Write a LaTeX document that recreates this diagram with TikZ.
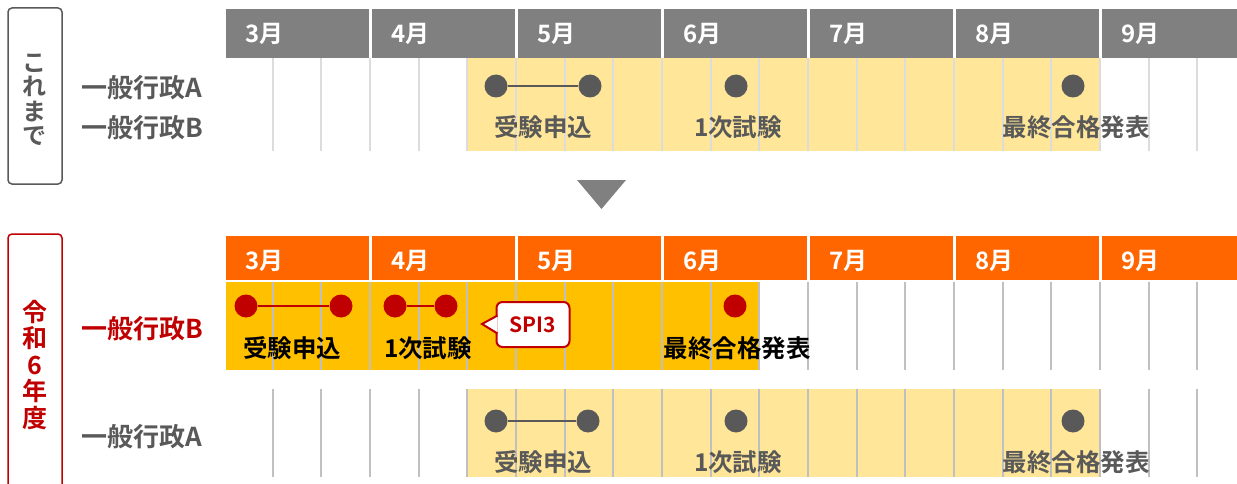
\documentclass[tikz,border=0pt]{standalone}
\usepackage{fontspec}
\setmainfont{Noto Sans CJK JP}[BoldFont={Noto Sans CJK JP Bold}]
\usetikzlibrary{calc}
\definecolor{dgray}{HTML}{595959}
\definecolor{hgray}{HTML}{808080}
\definecolor{lgray}{HTML}{DCDCDC}
\definecolor{mgray}{HTML}{C0C0C0}
\definecolor{byel}{HTML}{FFE699}
\definecolor{oyel}{HTML}{FFC000}
\definecolor{orng}{HTML}{FF6600}
\definecolor{dred}{HTML}{C00000}
\tikzset{
  monthlbl/.style={anchor=west, text=white, inner sep=0, font=\fontsize{24}{24}\selectfont\bfseries},
  rowlbl/.style={anchor=west, inner sep=0, font=\fontsize{26}{26}\selectfont\bfseries},
  evlbl/.style={inner sep=0, font=\fontsize{24.5}{24.5}\selectfont\bfseries},
  evdot/.style={circle, inner sep=0, minimum size=23pt},
  link/.style={line width=2.5pt},
  sidebox/.style={draw, line width=1.5pt, rounded corners=4pt, minimum width=54pt, inner sep=0},
  sidetext/.style={align=center, inner sep=0},
  gridtop/.style={lgray, line width=2pt},
  gridlow/.style={mgray, line width=2pt},
  monthsep/.style={white, line width=3pt},
}
\begin{document}
\begin{tikzpicture}[x=1pt,y=-1pt]
\useasboundingbox (0,0) rectangle (1237,484);
\fill[white] (0,0) rectangle (1237,484);

% ---------------- top section (これまで) ----------------
\node[sidebox, draw=dgray, minimum height=176pt] (boxold) at (35,96) {};
\node[sidetext, text=dgray, font=\fontsize{24}{24.5}\selectfont\bfseries] (txtold) at (35,100) {こ\\れ\\ま\\で};

\fill[hgray] (226,9) rectangle (1237,58);
\foreach \i in {1,...,6} { \draw[monthsep] (224+146*\i,9) -- (224+146*\i,58); }
\foreach \m [count=\i from 0] in {3,...,9} {
  \node[monthlbl] (tm\m) at (245+146*\i,34) {\m{}月};
}
\fill[byel] (467.3,58) rectangle (1100,151);
\foreach \k in {1,...,20} {
  \pgfmathsetmacro\gx{224+48.667*\k}
  \draw[gridtop] (\gx,58) -- (\gx,151);
}
\node[rowlbl, text=dgray] (oldA) at (81,88) {一般行政A};
\node[rowlbl, text=dgray] (oldB) at (81,128) {一般行政B};

\node[evdot, fill=dgray] (o1) at (496,86) {};
\node[evdot, fill=dgray] (o2) at (590,86) {};
\node[evdot, fill=dgray] (o3) at (736,86) {};
\node[evdot, fill=dgray] (o4) at (1073,86) {};
\draw[link, dgray] (o1) -- (o2);
\node[evlbl, text=dgray] (ol1) at (543,127) {受験申込};
\node[evlbl, text=dgray] (ol2) at (738,127) {1次試験};
\node[evlbl, text=dgray] (ol3) at (1076,127) {最終合格発表};

% arrow
\fill[hgray] (577,180) -- (626,180) -- (601.5,209) -- cycle;

% ---------------- bottom section (令和6年度) ----------------
\node[sidebox, draw=dred, minimum height=270pt] (boxnew) at (35,369) {};
\node[sidetext, text=dred, font=\fontsize{25}{26.5}\selectfont\bfseries] (txtnew) at (35,365) {令\\和\\6\\年\\度};

\fill[orng] (226,236) rectangle (1237,280);
\foreach \i in {1,...,6} { \draw[monthsep] (224+146*\i,236) -- (224+146*\i,280); }
\foreach \m [count=\i from 0] in {3,...,9} {
  \node[monthlbl] (bm\m) at (245+146*\i,261) {\m{}月};
}
\fill[oyel] (226,282) rectangle (759.3,370);
\fill[byel] (467.3,389) rectangle (1100,477);
\foreach \k in {1,...,20} {
  \pgfmathsetmacro\gx{224+48.667*\k}
  \draw[gridlow] (\gx,282) -- (\gx,370);
  \draw[gridlow] (\gx,389) -- (\gx,477);
}

\node[rowlbl, text=dred] (newB) at (81,329) {一般行政B};
\node[rowlbl, text=dgray] (newA) at (81,437) {一般行政A};

% row B
\node[evdot, fill=dred] (b1) at (246,306) {};
\node[evdot, fill=dred] (b2) at (341,306) {};
\node[evdot, fill=dred] (b3) at (395,306) {};
\node[evdot, fill=dred] (b4) at (446,306) {};
\node[evdot, fill=dred] (b5) at (735,306) {};
\draw[link, dred] (b1) -- (b2);
\draw[link, dred] (b3) -- (b4);
\node[evlbl, text=black] (bl1) at (292,348) {受験申込};
\node[evlbl, text=black] (bl2) at (428,348) {1次試験};
\node[evlbl, text=black] (bl3) at (737,348) {最終合格発表};

% SPI3 callout
\node[draw=dred, line width=2pt, fill=white, rounded corners=6pt, minimum width=73pt, minimum height=45pt, inner sep=0,
      text=dred, font=\fontsize{21}{21}\selectfont\bfseries] (spi) at (533,324.5) {SPI3};
\coordinate (tip) at (482,324);
\draw[dred, line width=2pt, fill=white, line join=miter]
  ($(spi.west)+(2,-9)$) -- (tip) -- ($(spi.west)+(2,9)$);

% row A
\node[evdot, fill=dgray] (a1) at (496,421) {};
\node[evdot, fill=dgray] (a2) at (588,421) {};
\node[evdot, fill=dgray] (a3) at (736,421) {};
\node[evdot, fill=dgray] (a4) at (1073,421) {};
\draw[link, dgray] (a1) -- (a2);
\node[evlbl, text=dgray] (al1) at (543,462) {受験申込};
\node[evlbl, text=dgray] (al2) at (738,462) {1次試験};
\node[evlbl, text=dgray] (al3) at (1076,462) {最終合格発表};
\end{tikzpicture}
\end{document}
